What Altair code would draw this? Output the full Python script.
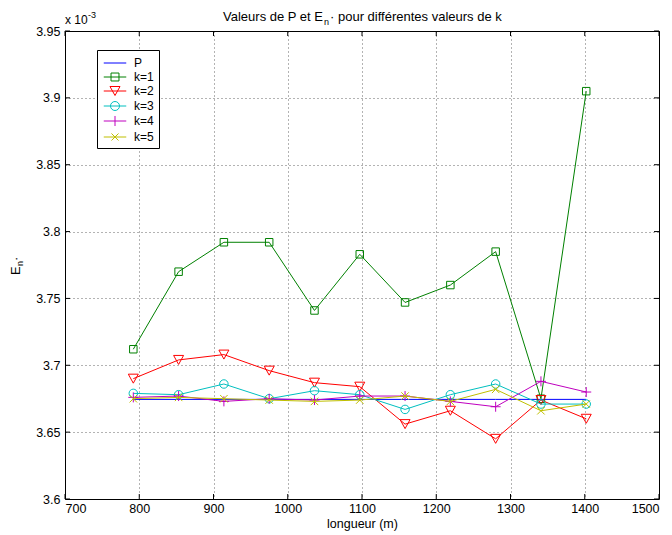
import altair as alt
import pandas as pd

# ---------------- data ----------------
longueur = [792, 853, 914, 975, 1036, 1097, 1158, 1219, 1280, 1341, 1402]
E_P  = [3.6745, 3.6745, 3.6745, 3.6745, 3.6745, 3.6745, 3.6745, 3.6745, 3.6745, 3.6745, 3.6745]
E_k1 = [3.712, 3.770, 3.792, 3.792, 3.741, 3.783, 3.747, 3.760, 3.785, 3.675, 3.905]
E_k2 = [3.690, 3.704, 3.708, 3.696, 3.687, 3.684, 3.656, 3.666, 3.645, 3.674, 3.660]
E_k3 = [3.679, 3.678, 3.686, 3.675, 3.681, 3.678, 3.667, 3.678, 3.686, 3.671, 3.671]
E_k4 = [3.676, 3.677, 3.673, 3.675, 3.674, 3.677, 3.677, 3.673, 3.669, 3.688, 3.680]
E_k5 = [3.675, 3.676, 3.675, 3.674, 3.673, 3.674, 3.677, 3.673, 3.682, 3.666, 3.671]

series_names = ["P", "k=1", "k=2", "k=3", "k=4", "k=5"]
series_values = [E_P, E_k1, E_k2, E_k3, E_k4, E_k5]
series_colors = ["#0000ff", "#008000", "#ff0000", "#00bfbf", "#bf00bf", "#bfbf00"]

x_ticks = [700, 800, 900, 1000, 1100, 1200, 1300, 1400, 1500]
y_ticks = [3.6, 3.65, 3.7, 3.75, 3.8, 3.85, 3.9, 3.95]

title_left = "Valeurs de P et E"
title_sub = "n"
title_right = "\u00b7 pour diff\u00e9rentes valeurs de k"
x_label = "longueur (m)"
y_label_main = "E"
y_label_sub = "n"
y_label_star = "\u00b7"
exp_base = "x 10"
exp_pow = "-3"

# ---------------- styles ----------------
marker_shapes = [None, "square", "M-1,-0.9L1,-0.9L0,0.9Z", "circle",
                 "M-1,0H1M0,-1V1", "M-1,-1L1,1M-1,1L1,-1"]
marker_sizes = [0, 56, 100, 72, 100, 56]
legend_shapes = [
    "M-1.5,0H1.5",
    "M-1.5,0H1.5M-0.53,-0.53H0.53V0.53H-0.53Z",
    "M-1.5,0H1.5M-0.67,-0.6H0.67L0,0.6Z",
    "M-1.5,0H1.5M0.6,0A0.6,0.6,0,1,1,-0.6,0A0.6,0.6,0,1,1,0.6,0Z",
    "M-1.5,0H1.5M0,-0.67V0.67",
    "M-1.5,0H1.5M-0.47,-0.47L0.47,0.47M-0.47,0.47L0.47,-0.47",
]

W, H = 594, 468
FONT = "Liberation Sans"

rows = []
for name, vals in zip(series_names, series_values):
    for x, v in zip(longueur, vals):
        rows.append({"serie": name, "longueur": x, "E": v})
df = pd.DataFrame(rows)

x_scale = alt.Scale(domain=[700, 1500], nice=False)
y_scale = alt.Scale(domain=[3.6, 3.95], nice=False, zero=False)
x_enc = alt.X("longueur:Q", scale=x_scale,
              axis=alt.Axis(values=x_ticks, format="d", title=x_label,
                            labelPadding=3, titlePadding=3))
y_enc = alt.Y("E:Q", scale=y_scale,
              axis=alt.Axis(values=y_ticks, format="~g", title=None,
                            labelPadding=5))

layers = []

# inner tick marks (box style)
xt = pd.DataFrame({"longueur": x_ticks})
yt = pd.DataFrame({"E": y_ticks})
layers.append(alt.Chart(xt).mark_rule(color="black", strokeWidth=1).encode(
    x=x_enc, y=alt.value(H), y2=alt.value(H - 5)))
layers.append(alt.Chart(xt).mark_rule(color="black", strokeWidth=1).encode(
    x=x_enc, y=alt.value(0), y2=alt.value(5)))
layers.append(alt.Chart(yt).mark_rule(color="black", strokeWidth=1).encode(
    y=y_enc, x=alt.value(0), x2=alt.value(5)))
layers.append(alt.Chart(yt).mark_rule(color="black", strokeWidth=1).encode(
    y=y_enc, x=alt.value(W), x2=alt.value(W - 5)))

# series: line + markers
for i, name in enumerate(series_names):
    base = alt.Chart(df).transform_filter(alt.datum.serie == name)
    layers.append(base.mark_line(color=series_colors[i], strokeWidth=1).encode(
        x=x_enc, y=y_enc))
    if marker_shapes[i] is not None:
        layers.append(base.mark_point(shape=marker_shapes[i], filled=False,
                                      color=series_colors[i], size=marker_sizes[i],
                                      strokeWidth=1, opacity=1).encode(
            x=x_enc, y=y_enc))

# legend layer (invisible marks, visible legend)
leg = alt.Legend(title=None, orient="none", legendX=32, legendY=19, padding=5,
                 rowPadding=0, symbolSize=225, symbolStrokeWidth=1,
                 symbolOpacity=1, symbolOffset=5, labelOffset=11,
                 labelExpr="datum.label + '\u00a0\u00a0'",
                 labelFont=FONT, labelFontSize=12, labelColor="black",
                 strokeColor="black", fillColor="white", cornerRadius=0)
layers.append(alt.Chart(df).mark_point(filled=False, opacity=0).encode(
    x=x_enc, y=y_enc,
    color=alt.Color("serie:N", scale=alt.Scale(domain=series_names, range=series_colors), legend=leg),
    shape=alt.Shape("serie:N", scale=alt.Scale(domain=series_names, range=legend_shapes), legend=leg),
))

# texts
def txt(s, x, y, size, align="left", angle=0):
    return alt.Chart(pd.DataFrame({"t": [s]})).mark_text(
        align=align, baseline="alphabetic", font=FONT, fontSize=size,
        color="black", angle=angle).encode(text="t:N", x=alt.value(x), y=alt.value(y))

layers.append(txt(title_left, 258, -10, 13, align="right"))
layers.append(txt(title_sub, 259, -6, 9))
layers.append(txt(title_right, 265, -10, 13))
layers.append(txt(exp_base, 0, -7, 12))
layers.append(txt(exp_pow, 23, -13, 9))
layers.append(txt(y_label_main, -45, 244, 13, angle=270))
layers.append(txt(y_label_sub, -42, 235, 9, angle=270))
layers.append(txt(y_label_star, -45, 230, 13, angle=270))

chart = alt.layer(*layers).properties(
    width=W, height=H,
    autosize=alt.AutoSizeParams(type="none"),
    padding={"left": 57, "top": 23, "right": 5, "bottom": 35},
).configure_view(stroke="black", strokeWidth=1).configure_axis(
    grid=True, gridColor="#000000", gridDash=[1, 3], gridOpacity=0.6, gridWidth=1,
    domain=False, ticks=False, labelFont=FONT, labelFontSize=12.5, labelColor="black",
    titleFont=FONT, titleFontSize=12.5, titleFontWeight="normal", titleColor="black",
)

chart.save("out.html", embed_options={"renderer": "svg", "actions": False})
